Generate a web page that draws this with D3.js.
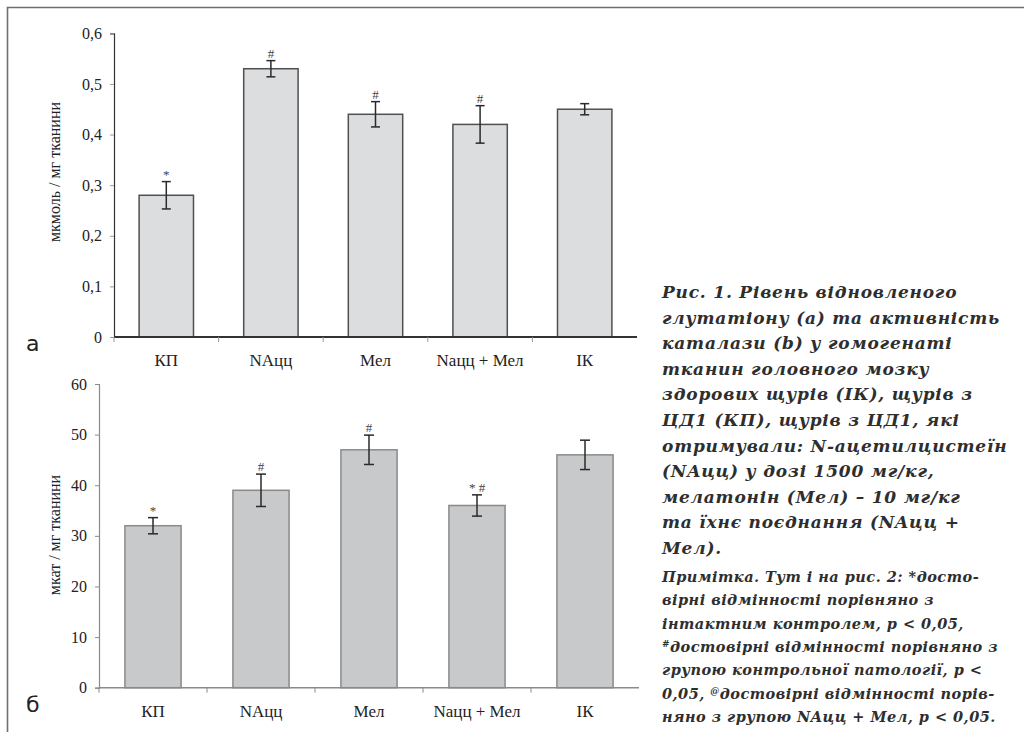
<!DOCTYPE html>
<html>
<head>
<meta charset="utf-8">
<script src="https://cdn.jsdelivr.net/npm/d3@7"></script>
<style>
  body { margin: 0; background: #fff; }
  svg { display: block; }
</style>
</head>
<body>
<svg id="fig"></svg>
<script>
const width = 1024;
const height = 732;

const groups = ["КП", "NAцц", "Мел", "Nацц + Мел", "ІК"];

// glutathione (a)
const gshValues = [0.28, 0.53, 0.44, 0.42, 0.45];
const gshErrors = [0.027, 0.016, 0.025, 0.037, 0.011];
const gshMarks = ["*", "#", "#", "#", ""];
const gshTicks = [0, 0.1, 0.2, 0.3, 0.4, 0.5, 0.6];

// catalase (б)
const catValues = [32, 39, 47, 36, 46];
const catErrors = [1.6, 3.2, 2.9, 2.1, 2.9];
const catMarks = ["*", "#", "#", "* #", ""];
const catTicks = [0, 10, 20, 30, 40, 50, 60];

const captionLines = [
    "Рис. 1. Рівень відновленого",
    "глутатіону (а) та активність",
    "каталази (b) у гомогенаті",
    "тканин головного мозку",
    "здорових щурів (ІК), щурів з",
    "ЦД1 (КП), щурів з ЦД1, які",
    "отримували: N-ацетилцистеїн",
    "(NAцц) у дозі 1500 мг/кг,",
    "мелатонін (Мел) – 10 мг/кг",
    "та їхнє поєднання (NAцц +",
    "Мел)."
];
// [superscript, text] pieces per line
const noteLines = [
    [["", "Примітка. Тут і на рис. 2: *досто-"]],
    [["", "вірні відмінності порівняно з"]],
    [["", "інтактним контролем, p < 0,05,"]],
    [["#", "достовірні відмінності порівняно з"]],
    [["", "групою контрольної патології, p <"]],
    [["", "0,05, "], ["@", "достовірні відмінності порів-"]],
    [["", "няно з групою NAцц + Мел, p < 0,05."]]
];

const SERIF = '"Liberation Serif", serif';
const SANS = '"DejaVu Sans", sans-serif';
const CAPTION = '"DejaVu Serif", serif';

const svg = d3.select("#fig")
    .attr("width", width)
    .attr("height", height);

// frame
svg.append("path")
    .attr("d", `M7.5,${height} V7.5 H${width}`)
    .attr("fill", "none")
    .attr("stroke", "#6f6f6f")
    .attr("stroke-width", 1.6);

function drawPanel(cfg) {
    const x = d3.scaleBand()
        .domain(groups)
        .range([cfg.left, cfg.right])
        .padding(0);
    const y = d3.scaleLinear()
        .domain([0, cfg.max])
        .range([cfg.bottom, cfg.top]);

    const g = svg.append("g");

    // y axis
    const yAxis = d3.axisLeft(y)
        .tickValues(cfg.ticks)
        .tickSize(4)
        .tickPadding(8)
        .tickFormat(cfg.fmt);
    const ya = g.append("g")
        .attr("transform", `translate(${cfg.left},0)`)
        .call(yAxis);
    ya.select(".domain").attr("stroke", cfg.axisColor).attr("stroke-width", 1.2);
    ya.selectAll(".tick line").attr("stroke", cfg.tickColor);
    ya.selectAll(".tick text")
        .style("font-family", SERIF)
        .style("font-size", "16px")
        .attr("fill", "#222");

    // y title
    g.append("text")
        .attr("transform", `translate(${cfg.titleX},${cfg.titleY}) rotate(-90)`)
        .attr("text-anchor", "middle")
        .style("font-family", SERIF)
        .style("font-size", "16px")
        .attr("fill", "#222")
        .text(cfg.title);

    // bars
    const bw = x.bandwidth() * 0.52;
    g.selectAll("rect.bar")
        .data(groups)
        .enter()
        .append("rect")
        .attr("class", "bar")
        .attr("x", d => x(d) + (x.bandwidth() - bw) / 2)
        .attr("y", (d, i) => y(cfg.values[i]))
        .attr("width", bw)
        .attr("height", (d, i) => y(0) - y(cfg.values[i]))
        .attr("fill", cfg.barFill)
        .attr("stroke", cfg.barStroke)
        .attr("stroke-width", 1.5);

    // error bars
    const cx = d => x(d) + x.bandwidth() / 2;
    const err = g.selectAll("g.err")
        .data(groups)
        .enter()
        .append("g")
        .attr("class", "err")
        .attr("stroke", "#2a2a2a")
        .attr("stroke-width", 1.5);
    err.append("line")
        .attr("x1", cx).attr("x2", cx)
        .attr("y1", (d, i) => y(cfg.values[i] + cfg.errors[i]))
        .attr("y2", (d, i) => y(cfg.values[i] - cfg.errors[i]));
    err.append("line")
        .attr("x1", d => cx(d) - cfg.cap).attr("x2", d => cx(d) + cfg.cap)
        .attr("y1", (d, i) => y(cfg.values[i] + cfg.errors[i]))
        .attr("y2", (d, i) => y(cfg.values[i] + cfg.errors[i]));
    err.append("line")
        .attr("x1", d => cx(d) - cfg.cap).attr("x2", d => cx(d) + cfg.cap)
        .attr("y1", (d, i) => y(cfg.values[i] - cfg.errors[i]))
        .attr("y2", (d, i) => y(cfg.values[i] - cfg.errors[i]));

    // significance marks
    g.selectAll("text.mark")
        .data(groups)
        .enter()
        .append("text")
        .attr("class", "mark")
        .attr("x", cx)
        .attr("y", (d, i) => y(cfg.values[i] + cfg.errors[i]) - 3)
        .attr("text-anchor", "middle")
        .style("font-family", SERIF)
        .style("font-size", "13px")
        .style("white-space", "pre")
        .attr("fill", "#444")
        .text((d, i) => cfg.marks[i]);

    // x axis: line, boundary ticks, labels
    g.append("line")
        .attr("x1", cfg.left).attr("x2", cfg.right)
        .attr("y1", y(0)).attr("y2", y(0))
        .attr("stroke", cfg.axisColor)
        .attr("stroke-width", cfg.xAxisWidth);
    g.selectAll("line.xtick")
        .data(groups)
        .enter()
        .append("line")
        .attr("class", "xtick")
        .attr("x1", d => x(d)).attr("x2", d => x(d))
        .attr("y1", y(0)).attr("y2", y(0) + 5)
        .attr("stroke", cfg.tickColor);
    g.selectAll("text.xlab")
        .data(groups)
        .enter()
        .append("text")
        .attr("class", "xlab")
        .attr("x", cx)
        .attr("y", y(0) + 29)
        .attr("text-anchor", "middle")
        .style("font-family", SERIF)
        .style("font-size", "17px")
        .attr("fill", "#222")
        .text(d => d);

    // panel letter
    g.append("text")
        .attr("x", 26)
        .attr("y", cfg.letterY)
        .style("font-family", SANS)
        .style("font-size", "22px")
        .attr("fill", "#222")
        .text(cfg.letter);
}

const commaFmt = d => d === 0 ? "0" : d3.format(".1f")(d).replace(".", ",");

drawPanel({
    left: 114, right: 637, top: 33.3, bottom: 337,
    max: 0.6, ticks: gshTicks, fmt: commaFmt,
    values: gshValues, errors: gshErrors, marks: gshMarks,
    title: "мкмоль / мг тканини", titleX: 60, titleY: 172,
    barFill: "#dcdddf", barStroke: "#505050",
    axisColor: "#333", tickColor: "#999", xAxisWidth: 2,
    cap: 4.5, letter: "а", letterY: 351
});

drawPanel({
    left: 99, right: 639, top: 384, bottom: 687.7,
    max: 60, ticks: catTicks, fmt: d3.format("d"),
    values: catValues, errors: catErrors, marks: catMarks,
    title: "мкат / мг тканини", titleX: 60, titleY: 535,
    barFill: "#c8c9cb", barStroke: "#8a8a8a",
    axisColor: "#8a8a8a", tickColor: "#8a8a8a", xAxisWidth: 1.5,
    cap: 5, letter: "б", letterY: 712
});

// caption
const cap = svg.append("g")
    .style("font-family", CAPTION)
    .style("font-style", "italic")
    .style("font-weight", "bold")
    .attr("fill", "#2e2e2e");

const capText = cap.selectAll("text.capline")
    .data(captionLines)
    .enter()
    .append("text")
    .attr("class", "capline")
    .attr("x", 662)
    .attr("y", (d, i) => 298 + i * 25.6)
    .style("font-size", "17px")
    .text(d => d);

// widen letter spacing so the longest caption line spans like the original
const refCap = capText.filter((d, i) => i === 1).node();
const capSpacing = (338 - refCap.getComputedTextLength()) / captionLines[1].length;
capText.style("letter-spacing", Math.max(0, capSpacing) + "px");

const notes = cap.selectAll("text.note")
    .data(noteLines)
    .enter()
    .append("text")
    .attr("class", "note")
    .attr("x", 662)
    .attr("y", (d, i) => 582 + i * 23.3)
    .style("font-size", "14.5px");

notes.each(function (d) {
    const t = d3.select(this);
    d.forEach(([sup, txt]) => {
        if (sup) {
            t.append("tspan").style("font-size", "9px").attr("dy", -5).text(sup);
            t.append("tspan").attr("dy", 5).text(txt);
        } else {
            t.append("tspan").style("white-space", "pre").text(txt);
        }
    });
});

const refNote = notes.filter((d, i) => i === 3).node();
const noteChars = d3.sum(noteLines[3], p => p[0].length + p[1].length);
const noteSpacing = (336 - refNote.getComputedTextLength()) / noteChars;
notes.style("letter-spacing", Math.max(0, noteSpacing) + "px");
</script>
</body>
</html>
